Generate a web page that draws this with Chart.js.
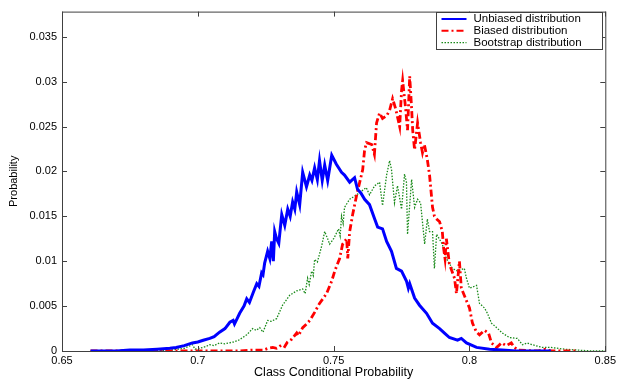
<!DOCTYPE html>
<html>
<head>
<meta charset="utf-8">
<script src="https://cdn.jsdelivr.net/npm/chart.js@4/dist/chart.umd.min.js"></script>
<style>
	html, body { margin: 0; padding: 0; background: #fff; }
	#wrap { width: 619px; height: 380px; position: relative; }
</style>
</head>
<body>
<div id="wrap"><canvas id="chart"></canvas></div>
<script>
// values
const unbiasedX = [0.6605, 0.670, 0.675, 0.680, 0.685, 0.6897, 0.692, 0.695, 0.698, 0.700, 0.702, 0.7044, 0.706, 0.708, 0.710, 0.7118, 0.713, 0.7135, 0.7154, 0.717, 0.718, 0.719, 0.7205, 0.7217, 0.7225, 0.7235, 0.724, 0.7246, 0.7257, 0.7265, 0.7272, 0.7278, 0.7283, 0.729, 0.7298, 0.7309, 0.732, 0.7331, 0.734, 0.7349, 0.7357, 0.7364, 0.7375, 0.7386, 0.740, 0.7412, 0.742, 0.743, 0.744, 0.7448, 0.7458, 0.7467, 0.7478, 0.7493, 0.751, 0.7529, 0.754, 0.7559, 0.7577, 0.7588, 0.760, 0.7614, 0.7632, 0.7651, 0.7662, 0.768, 0.7695, 0.7713, 0.7731, 0.775, 0.7768, 0.7775, 0.778, 0.7798, 0.7816, 0.7842, 0.7864, 0.789, 0.7908, 0.7926, 0.7956, 0.797, 0.7989, 0.8026, 0.8074, 0.812, 0.8172, 0.830];
const unbiasedY = [0, 0, 0.0001, 0.0001, 0.0002, 0.0003, 0.0004, 0.0006, 0.0009, 0.0010, 0.0012, 0.0014, 0.0016, 0.0021, 0.0025, 0.0032, 0.0034, 0.0030, 0.0042, 0.0050, 0.0058, 0.0054, 0.0066, 0.0075, 0.0072, 0.0087, 0.0085, 0.0098, 0.0111, 0.0103, 0.0122, 0.0100, 0.0133, 0.0125, 0.0120, 0.0152, 0.0140, 0.0158, 0.0150, 0.0166, 0.0158, 0.0177, 0.0163, 0.0199, 0.0183, 0.0196, 0.0190, 0.0204, 0.0191, 0.0212, 0.0190, 0.0207, 0.0190, 0.0218, 0.0208, 0.0199, 0.0196, 0.0188, 0.0193, 0.0180, 0.0176, 0.0169, 0.0163, 0.0147, 0.0138, 0.0136, 0.0122, 0.0111, 0.0092, 0.0089, 0.0078, 0.0070, 0.0075, 0.0059, 0.0051, 0.0042, 0.0031, 0.0025, 0.0020, 0.0015, 0.0012, 0.0014, 0.0009, 0.0004, 0.0002, 0.0001, 0, 0];

const biasedX = [0.6605, 0.700, 0.715, 0.720, 0.724, 0.726, 0.7276, 0.729, 0.731, 0.732, 0.733, 0.7345, 0.7364, 0.737, 0.7386, 0.740, 0.7412, 0.743, 0.7448, 0.746, 0.7474, 0.7493, 0.7504, 0.7522, 0.7533, 0.7548, 0.7552, 0.7559, 0.757, 0.7585, 0.7596, 0.7607, 0.7614, 0.7621, 0.764, 0.765, 0.7658, 0.7669, 0.768, 0.7695, 0.7706, 0.7717, 0.7728, 0.7743, 0.775, 0.7754, 0.7765, 0.7772, 0.778, 0.7787, 0.7791, 0.7798, 0.7809, 0.782, 0.7827, 0.7834, 0.7845, 0.7853, 0.7864, 0.7871, 0.7879, 0.789, 0.790, 0.7905, 0.791, 0.7915, 0.7926, 0.7945, 0.7952, 0.7963, 0.797, 0.7989, 0.800, 0.8011, 0.8026, 0.8037, 0.8055, 0.807, 0.8081, 0.810, 0.8118, 0.8135, 0.8154, 0.8165, 0.818, 0.825, 0.828, 0.830, 0.840];
const biasedY = [0, 0, 0, 0.0001, 0.0001, 0.0003, 0.0004, 0.0003, 0.0007, 0.0005, 0.0010, 0.0013, 0.0020, 0.0017, 0.0026, 0.0030, 0.0034, 0.0043, 0.0053, 0.0058, 0.0064, 0.0078, 0.0089, 0.0103, 0.0119, 0.0125, 0.0103, 0.0133, 0.0152, 0.0174, 0.0188, 0.0202, 0.0224, 0.0232, 0.0230, 0.0219, 0.0254, 0.0265, 0.0259, 0.0262, 0.0268, 0.0281, 0.0270, 0.0250, 0.0290, 0.0301, 0.0270, 0.0246, 0.0306, 0.0270, 0.0246, 0.0224, 0.0254, 0.0232, 0.0221, 0.0230, 0.0213, 0.0196, 0.0160, 0.0150, 0.0147, 0.0144, 0.0133, 0.0114, 0.0103, 0.0125, 0.0097, 0.0081, 0.0064, 0.0100, 0.0070, 0.0056, 0.0048, 0.0031, 0.0021, 0.0018, 0.0023, 0.0020, 0.0009, 0.0004, 0.0009, 0.0006, 0.0009, 0.0004, 0.0001, 0, 0.0002, 0, 0];

const bootstrapX = [0.6605, 0.680, 0.690, 0.695, 0.698, 0.699, 0.7007, 0.703, 0.7044, 0.706, 0.708, 0.710, 0.713, 0.715, 0.7165, 0.718, 0.7202, 0.7215, 0.7228, 0.724, 0.7257, 0.727, 0.729, 0.7312, 0.7338, 0.7364, 0.7386, 0.7395, 0.7404, 0.741, 0.7419, 0.7425, 0.743, 0.744, 0.7456, 0.7467, 0.7478, 0.7485, 0.750, 0.7518, 0.7524, 0.7529, 0.7535, 0.754, 0.7559, 0.7585, 0.7611, 0.762, 0.7632, 0.7651, 0.7669, 0.768, 0.7695, 0.7706, 0.7713, 0.7724, 0.7735, 0.775, 0.7761, 0.7768, 0.7772, 0.7787, 0.7798, 0.7809, 0.782, 0.7835, 0.7845, 0.7853, 0.7864, 0.7871, 0.7879, 0.790, 0.7915, 0.7937, 0.7956, 0.7981, 0.7989, 0.800, 0.8026, 0.8037, 0.8055, 0.8066, 0.8081, 0.810, 0.8121, 0.8147, 0.8176, 0.8195, 0.8213, 0.8231, 0.8268, 0.830, 0.835, 0.840, 0.845, 0.850];
const bootstrapY = [0, 0, 0.0001, 0.0003, 0.0007, 0.0002, 0.0003, 0.0005, 0.0007, 0.0006, 0.0009, 0.0008, 0.0010, 0.0012, 0.0015, 0.0018, 0.0025, 0.0023, 0.0026, 0.0021, 0.0034, 0.0033, 0.0036, 0.0051, 0.0062, 0.0067, 0.0069, 0.0064, 0.0081, 0.0074, 0.0089, 0.0084, 0.0102, 0.0099, 0.0117, 0.0133, 0.0125, 0.0119, 0.0125, 0.0136, 0.0128, 0.0150, 0.0142, 0.0160, 0.0169, 0.0174, 0.0180, 0.0182, 0.0174, 0.0184, 0.0188, 0.0162, 0.0196, 0.0212, 0.0202, 0.0165, 0.0184, 0.0158, 0.0197, 0.0188, 0.0130, 0.0191, 0.0160, 0.0169, 0.0165, 0.0119, 0.0147, 0.0133, 0.0133, 0.0092, 0.0130, 0.0119, 0.0103, 0.0092, 0.0089, 0.0092, 0.0081, 0.0070, 0.0073, 0.0053, 0.0048, 0.0042, 0.0031, 0.0026, 0.0020, 0.0015, 0.0014, 0.0007, 0.0009, 0.0007, 0.0004, 0.0004, 0.0002, 0.0001, 0, 0];

const xTicks = [0.65, 0.7, 0.75, 0.8, 0.85];
const yTicks = [0, 0.005, 0.01, 0.015, 0.02, 0.025, 0.03, 0.035];

const toPoints = (xs, ys) => xs.map((x, i) => ({ x, y: ys[i] }));
const fmt = (v) => String(Number(v.toFixed(4)));
const FONT = "'Liberation Sans', Arial, sans-serif";

// MATLAB style box with inward ticks + legend in the top right corner
const matlabFrame = {
	id: "matlabFrame",
	afterDatasetsDraw(chart) {
		const { ctx, chartArea: a, scales } = chart;
		ctx.save();
		ctx.strokeStyle = "#404040";
		ctx.lineWidth = 1;
		ctx.strokeRect(a.left + 0.5, a.top + 0.5, a.right - a.left, a.bottom - a.top);

		ctx.beginPath();
		xTicks.forEach((v) => {
			const px = Math.round(scales.x.getPixelForValue(v)) + 0.5;
			ctx.moveTo(px, a.bottom); ctx.lineTo(px, a.bottom - 5);
			ctx.moveTo(px, a.top); ctx.lineTo(px, a.top + 5);
		});
		yTicks.forEach((v) => {
			const py = Math.round(scales.y.getPixelForValue(v)) + 0.5;
			ctx.moveTo(a.left, py); ctx.lineTo(a.left + 5, py);
			ctx.moveTo(a.right, py); ctx.lineTo(a.right - 5, py);
		});
		ctx.stroke();

		// legend
		const box = { x: 436.5, y: 12.5, w: 166, h: 37 };
		ctx.fillStyle = "#fff";
		ctx.fillRect(box.x, box.y, box.w, box.h);
		ctx.strokeStyle = "#404040";
		ctx.strokeRect(box.x, box.y, box.w, box.h);
		ctx.font = "11.5px " + FONT;
		ctx.textBaseline = "middle";
		chart.data.datasets.forEach((ds, i) => {
			const ly = box.y + 6.5 + i * 11.8;
			ctx.beginPath();
			ctx.strokeStyle = ds.borderColor;
			ctx.lineWidth = Math.min(ds.borderWidth, 2);
			ctx.setLineDash(ds.borderDash || []);
			ctx.moveTo(box.x + 5, ly);
			ctx.lineTo(box.x + 30, ly);
			ctx.stroke();
			ctx.setLineDash([]);
			ctx.fillStyle = "#000";
			ctx.fillText(ds.label, box.x + 37, ly);
		});
		ctx.restore();
	},
};

new Chart(document.getElementById("chart"), {
	type: "line",
	data: {
		datasets: [
			{
				label: "Unbiased distribution",
				data: toPoints(unbiasedX, unbiasedY),
				borderColor: "#0000ff",
				borderWidth: 3,
			},
			{
				label: "Biased distribution",
				data: toPoints(biasedX, biasedY),
				borderColor: "#ff0000",
				borderWidth: 2.8,
				borderDash: [7, 3, 2, 3],
			},
			{
				label: "Bootstrap distribution",
				data: toPoints(bootstrapX, bootstrapY),
				borderColor: "#1a8a1a",
				borderWidth: 1.3,
				borderDash: [1.5, 1.5],
			},
		],
	},
	options: {
		responsive: true,
		maintainAspectRatio: false,
		animation: false,
		events: [],
		elements: { point: { radius: 0 }, line: { tension: 0 } },
		layout: { padding: { left: 0, top: 7, right: 12, bottom: 0 } },
		plugins: { legend: { display: false }, tooltip: { enabled: false } },
		scales: {
			x: {
				type: "linear",
				min: 0.65,
				max: 0.85,
				afterFit: (s) => { s.height = 29; },
				afterBuildTicks: (s) => { s.ticks = xTicks.map((value) => ({ value })); },
				grid: { display: false, drawTicks: false },
				border: { display: false },
				ticks: {
					padding: 3,
					maxRotation: 0,
					autoSkip: false,
					color: "#000",
					font: { family: FONT, size: 11 },
					callback: (v) => fmt(v),
				},
				title: {
					display: true,
					text: "Class Conditional Probability",
					color: "#000",
					font: { family: FONT, size: 12.5 },
					padding: { top: 0, bottom: 0 },
				},
			},
			y: {
				min: 0,
				max: 0.0378,
				afterFit: (s) => { s.width = 62; },
				afterBuildTicks: (s) => { s.ticks = yTicks.map((value) => ({ value })); },
				grid: { display: false, drawTicks: false },
				border: { display: false },
				ticks: {
					padding: 5,
					autoSkip: false,
					color: "#000",
					font: { family: FONT, size: 11 },
					callback: (v) => fmt(v),
				},
				title: {
					display: true,
					text: "Probability",
					color: "#000",
					font: { family: FONT, size: 11 },
					padding: { top: 7, bottom: 0 },
				},
			},
		},
	},
	plugins: [matlabFrame],
});
</script>
</body>
</html>
